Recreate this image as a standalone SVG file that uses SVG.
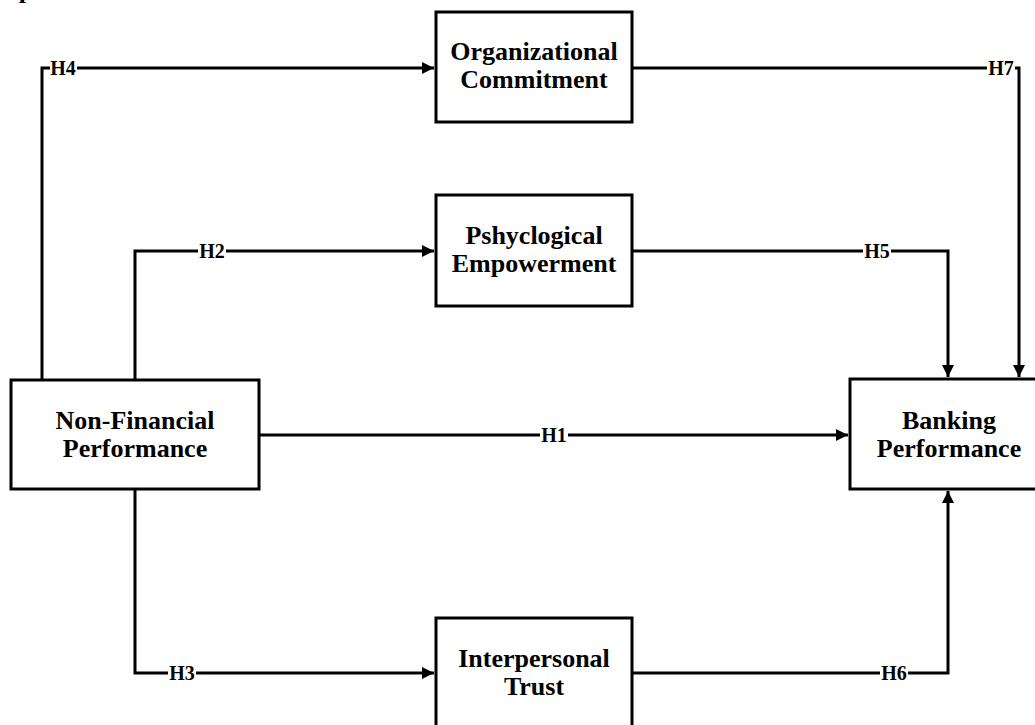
<svg xmlns="http://www.w3.org/2000/svg" width="1035" height="725" viewBox="0 0 1035 725">
<style>
.box{fill:#fff;stroke:#000;stroke-width:3}
.t{font-family:"Liberation Serif","Times New Roman",serif;font-weight:bold;font-size:26px;text-anchor:middle;fill:#000}
.c{fill:none;stroke:#000;stroke-width:3}
.lb{font-family:"Liberation Serif","Times New Roman",serif;font-weight:bold;font-size:20px;text-anchor:middle;fill:#000}
.bg{fill:#fff}
</style>
<defs>
<marker id="ah" viewBox="0 0 12 12" refX="12" refY="6" markerWidth="12" markerHeight="12" markerUnits="userSpaceOnUse" orient="auto">
<path d="M0,0 L12,6 L0,12 Z" fill="#000"/>
</marker>
</defs>
<rect width="1035" height="725" fill="#fff"/>
<text x="26" y="-2" class="t" font-size="20">p</text>
<g id="connectors">
<path class="c" d="M42,380 V68 H434" marker-end="url(#ah)"/>
<path class="c" d="M632,68 H1019 V377" marker-end="url(#ah)"/>
<path class="c" d="M135,380 V251 H434" marker-end="url(#ah)"/>
<path class="c" d="M632,251 H948 V377" marker-end="url(#ah)"/>
<path class="c" d="M259,435 H848" marker-end="url(#ah)"/>
<path class="c" d="M135,489 V673 H434" marker-end="url(#ah)"/>
<path class="c" d="M632,673 H948 V491" marker-end="url(#ah)"/>
<g id="labels">
<rect class="bg" x="50" y="60" width="27" height="16"/><text class="lb" x="63" y="75">H4</text>
<rect class="bg" x="987" y="60" width="28" height="16"/><text class="lb" x="1001" y="75">H7</text>
<rect class="bg" x="198" y="243" width="28" height="16"/><text class="lb" x="212" y="258">H2</text>
<rect class="bg" x="863" y="243" width="28" height="16"/><text class="lb" x="877" y="258">H5</text>
<rect class="bg" x="540" y="427" width="28" height="16"/><text class="lb" x="554" y="442">H1</text>
<rect class="bg" x="168" y="665" width="28" height="16"/><text class="lb" x="182" y="680">H3</text>
<rect class="bg" x="880" y="665" width="28" height="16"/><text class="lb" x="894" y="680">H6</text>
</g>
</g>
<g id="org">
<rect class="box" x="436" y="12" width="196" height="110"/>
<text class="t" x="534" y="60">Organizational</text>
<text class="t" x="534" y="88">Commitment</text>
</g>
<g id="psy">
<rect class="box" x="436" y="195" width="196" height="111"/>
<text class="t" x="534" y="244">Pshyclogical</text>
<text class="t" x="534" y="272">Empowerment</text>
</g>
<g id="nonfin">
<rect class="box" x="11" y="380" width="248" height="109"/>
<text class="t" x="135" y="429">Non-Financial</text>
<text class="t" x="135" y="457">Performance</text>
</g>
<g id="bank">
<rect class="box" x="850" y="379" width="198" height="110"/>
<text class="t" x="949" y="429">Banking</text>
<text class="t" x="949" y="457">Performance</text>
</g>
<g id="trust">
<rect class="box" x="436" y="618" width="196" height="111"/>
<text class="t" x="534" y="667">Interpersonal</text>
<text class="t" x="534" y="695">Trust</text>
</g>
</svg>
